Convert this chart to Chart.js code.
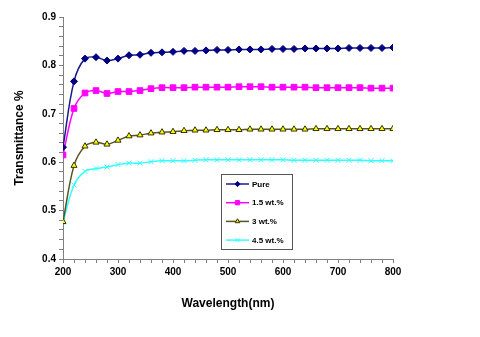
<!DOCTYPE html>
<html>
<head>
<meta charset="utf-8">
<script src="https://cdn.jsdelivr.net/npm/chart.js@4"></script>
<style>
  html, body { margin: 0; padding: 0; background: #fff; }
  #wrap { width: 480px; height: 337px; position: relative; }
</style>
</head>
<body>
<div id="wrap"><canvas id="chart" width="480" height="337"></canvas></div>
<script>
const wavelengths = [200, 220, 240, 260, 280, 300, 320, 340, 360, 380, 400, 420, 440, 460, 480, 500,
  520, 540, 560, 580, 600, 620, 640, 660, 680, 700, 720, 740, 760, 780, 800];

const pure = [0.631, 0.767, 0.814, 0.817, 0.810, 0.814, 0.821, 0.822, 0.826, 0.827, 0.828, 0.830, 0.830,
  0.831, 0.832, 0.832, 0.833, 0.833, 0.833, 0.834, 0.834, 0.834, 0.835, 0.835, 0.835, 0.835, 0.836,
  0.836, 0.836, 0.836, 0.837];

const wt15 = [0.615, 0.711, 0.743, 0.748, 0.742, 0.746, 0.746, 0.748, 0.752, 0.754, 0.754, 0.754, 0.755,
  0.755, 0.755, 0.755, 0.756, 0.756, 0.756, 0.755, 0.755, 0.755, 0.755, 0.754, 0.754, 0.754, 0.754,
  0.754, 0.753, 0.753, 0.753];

const wt3 = [0.477, 0.593, 0.633, 0.641, 0.637, 0.645, 0.654, 0.656, 0.660, 0.662, 0.663, 0.665, 0.666,
  0.666, 0.667, 0.667, 0.667, 0.668, 0.668, 0.668, 0.668, 0.668, 0.668, 0.669, 0.669, 0.669, 0.669,
  0.669, 0.669, 0.669, 0.669];

const wt45 = [0.476, 0.553, 0.581, 0.587, 0.590, 0.595, 0.598, 0.598, 0.601, 0.603, 0.603, 0.603, 0.604,
  0.605, 0.605, 0.605, 0.605, 0.605, 0.605, 0.605, 0.605, 0.604, 0.604, 0.604, 0.604, 0.604, 0.604,
  0.604, 0.603, 0.603, 0.603];

const seriesNames = ['Pure', '1.5 wt.%', '3 wt.%', '4.5 wt.%'];

const toPoints = arr => arr.map((v, i) => ({ x: wavelengths[i], y: v }));

// legend drawn as a boxed key inside the plot, like the original
const boxLegend = {
  id: 'boxLegend',
  afterDraw(chart) {
    const ctx = chart.ctx;
    const x0 = 221, y0 = 174, w = 71, h = 75;
    ctx.save();
    ctx.fillStyle = '#fff';
    ctx.fillRect(x0, y0, w, h);
    ctx.strokeStyle = '#555';
    ctx.lineWidth = 1;
    ctx.strokeRect(x0 + 0.5, y0 + 0.5, w, h);
    chart.data.datasets.forEach((ds, i) => {
      const y = y0 + 10 + i * 18.7;
      ctx.strokeStyle = ds.borderColor;
      ctx.lineWidth = 1.5;
      ctx.beginPath();
      ctx.moveTo(226, y);
      ctx.lineTo(249, y);
      ctx.stroke();
      ctx.fillStyle = ds.pointBackgroundColor;
      ctx.strokeStyle = ds.pointBorderColor;
      ctx.lineWidth = 1;
      Chart.helpers.drawPoint(ctx, {
        pointStyle: ds.pointStyle,
        radius: ds.pointRadius * 0.75,
        rotation: 0,
        borderWidth: ds.pointBorderWidth
      }, 237.5, y);
      ctx.fillStyle = '#000';
      ctx.font = 'bold 8px "Liberation Sans", Arial, sans-serif';
      ctx.textBaseline = 'middle';
      ctx.fillText(ds.label, 252, y + 0.5);
    });
    ctx.restore();
  }
};

const mkSet = (label, arr, line, fill, border, style, r) => ({
  label: label,
  data: toPoints(arr),
  borderColor: line,
  backgroundColor: fill,
  pointBackgroundColor: fill,
  pointBorderColor: border,
  pointBorderWidth: 1,
  pointStyle: style,
  pointRadius: r,
  borderWidth: 1.5,
  tension: 0.35,
  showLine: true
});

const ctx = document.getElementById('chart').getContext('2d');
new Chart(ctx, {
  type: 'scatter',
  data: {
    datasets: [
      mkSet(seriesNames[0], pure, '#1a1a8c', '#000080', '#000080', 'rectRot', 3.5),
      mkSet(seriesNames[1], wt15, '#ff00ff', '#ff00ff', '#ff00ff', 'rect', 4),
      mkSet(seriesNames[2], wt3, '#555522', '#ffff00', '#333300', 'triangle', 3.5),
      mkSet(seriesNames[3], wt45, '#33ffff', '#33ffff', '#33ffff', 'crossRot', 3.5)
    ]
  },
  options: {
    responsive: false,
    animation: false,
    layout: { padding: { left: 0, right: 87, top: 17, bottom: 18 } },
    plugins: {
      legend: { display: false },
      tooltip: { enabled: false }
    },
    scales: {
      x: {
        type: 'linear',
        min: 200,
        max: 800,
        afterFit: s => { s.height = 60; },
        border: { color: '#808080', width: 1 },
        grid: { drawOnChartArea: false, tickLength: 4, color: '#808080' },
        ticks: {
          stepSize: 20,
          autoSkip: false,
          maxRotation: 0,
          padding: 3,
          color: '#000',
          font: { family: '"Liberation Sans", Arial', size: 10, weight: 'bold' },
          callback: v => (v % 100 === 0 ? String(v) : '')
        },
        title: {
          display: true,
          text: 'Wavelength(nm)',
          color: '#000',
          padding: { top: 4, bottom: 8 },
          font: { family: '"Liberation Sans", Arial', size: 12, weight: 'bold' }
        }
      },
      y: {
        min: 0.4,
        max: 0.9,
        afterFit: s => { s.width = 63; },
        border: { color: '#808080', width: 1 },
        grid: { drawOnChartArea: false, tickLength: 4, color: '#808080' },
        ticks: {
          stepSize: 0.02,
          autoSkip: false,
          padding: 3,
          color: '#000',
          font: { family: '"Liberation Sans", Arial', size: 10, weight: 'bold' },
          callback: v => {
            const t = v * 10;
            return Math.abs(t - Math.round(t)) < 1e-6 ? v.toFixed(1) : '';
          }
        },
        title: {
          display: true,
          text: 'Transmittance %',
          color: '#000',
          padding: { top: 12, bottom: 0 },
          font: { family: '"Liberation Sans", Arial', size: 12, weight: 'bold' }
        }
      }
    }
  },
  plugins: [boxLegend]
});
</script>
</body>
</html>
